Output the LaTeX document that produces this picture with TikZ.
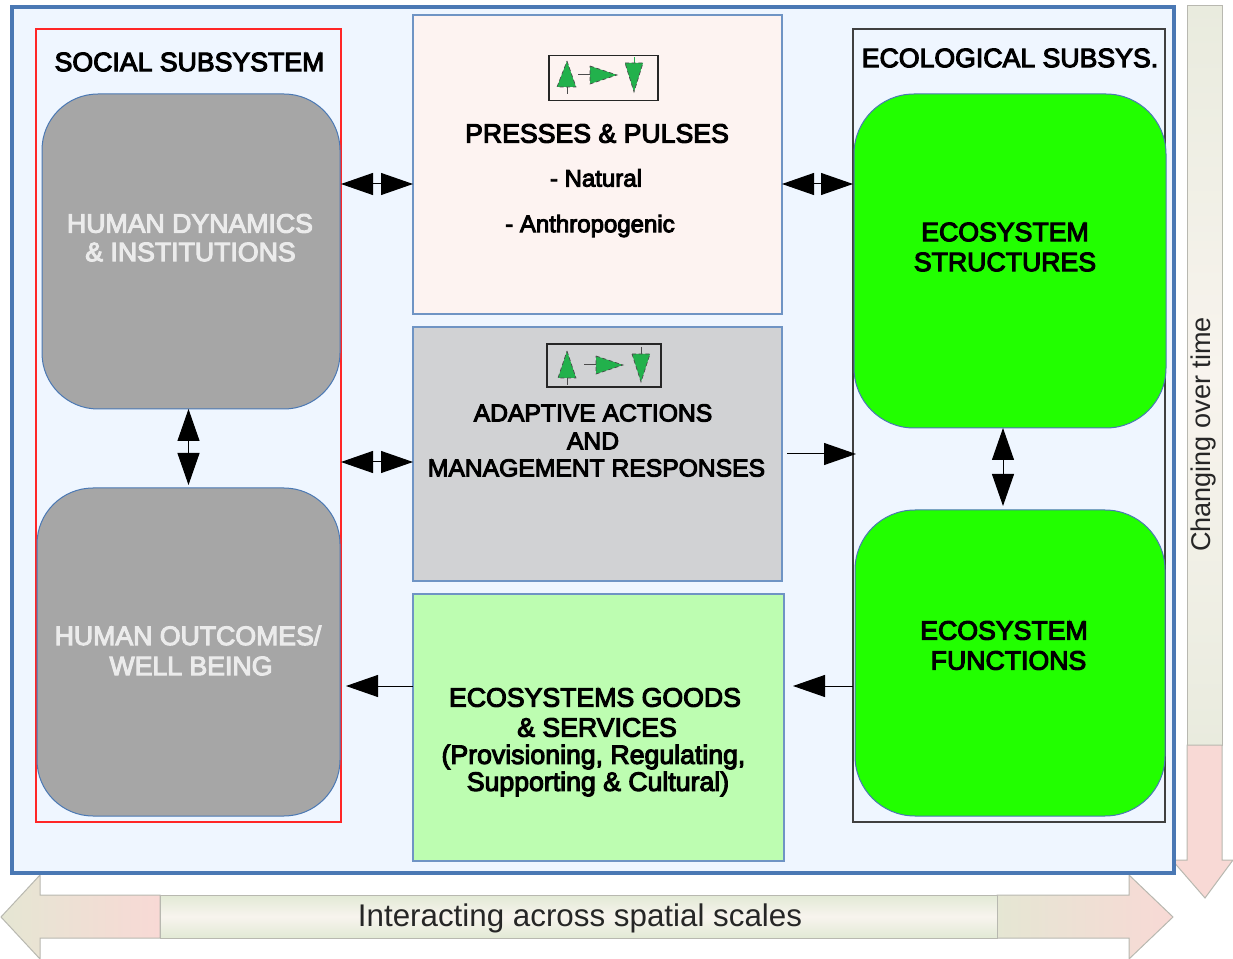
\documentclass[tikz,border=0pt]{standalone}
\usepackage{fontspec}
\usetikzlibrary{arrows.meta}
\setmainfont{Liberation Sans}
\newfontfamily\fb[FakeBold=4]{Liberation Sans}
\definecolor{outerblue}{HTML}{4A78B4}
\definecolor{paleblue}{HTML}{EFF6FF}
\definecolor{edgeblue}{HTML}{6F94C4}
\definecolor{arrowedge}{HTML}{B8B8B0}
\definecolor{sand}{HTML}{E5E6D3}
\definecolor{cream}{HTML}{F8F4EE}
\definecolor{sage}{HTML}{E9EBDE}
\definecolor{blush}{HTML}{F8D9D5}
\definecolor{bandgreen}{HTML}{E2E9D5}
\definecolor{treegreen}{HTML}{22B14C}
\definecolor{vivid}{HTML}{22FF00}
\tikzset{
  sz/.style 2 args={minimum width=#1*0.75pt,minimum height=#2*0.75pt,inner sep=0pt,outer sep=0pt},
  panel/.style={draw=edgeblue,line width=0.8pt},
  rbox/.style={draw=outerblue,line width=0.75pt,rounded corners=42pt},
  big/.style={font=\fb\fontsize{20}{22}\selectfont,inner sep=0pt,align=center},
  mid/.style={font=\fb\fontsize{20}{22}\selectfont,inner sep=0pt},
  adp/.style={font=\fb\fontsize{18.5}{20}\selectfont,inner sep=0pt},
  small/.style={font=\fb\fontsize{18}{20}\selectfont,inner sep=0pt},
  light/.style={text=black!8},
  dbl/.style={line width=0.75pt,{Triangle[length=24pt,width=16.5pt]}-{Triangle[length=24pt,width=16.5pt]}},
  sgl/.style={line width=0.75pt,-{Triangle[length=24pt,width=16.5pt]}},
  arrowband/.style={draw=arrowedge,line width=0.75pt},
  tree/.style={fill=treegreen,draw=black!70,line width=0.5pt,densely dashed},
  stem/.style={draw=black!70,line width=0.75pt},
  iconbox/.style={draw=black!85,line width=1pt,fill=none},
}
\begin{document}
\begin{tikzpicture}[x=0.75pt,y=-0.75pt]
\useasboundingbox (0,0) rectangle (1233,959);
% background arrows
\begin{scope}
\clip (0,0) rectangle (1233,959);
\path[arrowband,top color=sage,bottom color=sage,middle color=cream] (1187,6) rectangle (1222,745);
\path[arrowband,fill=blush] (1187,745) -- (1187,860) -- (1172,860) -- (1205,898) -- (1233,860) -- (1222,860) -- (1222,745) -- cycle;
\path[arrowband,left color=sand,right color=blush] (160,895) -- (40,895) -- (40,875) -- (1,917) -- (40,959) -- (40,938) -- (160,938) -- cycle;
\path[arrowband,left color=sand,right color=blush] (997,895) -- (1129,895) -- (1129,875) -- (1173,917) -- (1129,959) -- (1129,938) -- (997,938) -- cycle;
\path[arrowband,top color=bandgreen,bottom color=bandgreen,middle color=cream] (160,895) rectangle (997,938);
\end{scope}
\node[sz={1162}{866},draw=outerblue,line width=2.4pt,fill=paleblue] (outer) at (593,440) {};
\node[sz={305}{793},draw=red!85!white,line width=1pt] (social) at (188.5,425.5) {};
\node[sz={312}{793},draw=black!75,line width=1pt] (ecol) at (1009,425.5) {};
\node[sz={298}{315},rbox,fill=black!35] (hd) at (191,251.5) {};
\node[sz={303}{328},rbox,fill=black!35] (ho) at (188.5,652) {};
\node[sz={312}{334},rbox,rounded corners=45pt,fill=vivid] (es) at (1010,261) {};
\node[sz={310}{306},rbox,rounded corners=45pt,fill=vivid] (ef) at (1010,663) {};
\node[sz={369}{299},panel,fill={rgb,255:red,253;green,243;blue,241}] (press) at (597.5,164.5) {};
\node[sz={369}{254},panel,fill={rgb,255:red,209;green,210;blue,212}] (adapt) at (597.5,454) {};
\node[sz={371}{267},panel,fill={rgb,255:red,189;green,253;blue,177}] (goods) at (598.5,727.5) {};
% icon 1
\node[sz={109}{45},iconbox] (icona) at (603.5,78) {};
\draw[stem] (567,87) -- (567,94);
\draw[stem] (578,75) -- (590,75);
\draw[treegreen,line width=0.75pt] (634,57) -- (634,63);
\path[tree] (567,61) -- (576,87) -- (557,87) -- cycle;
\path[tree] (590,66) -- (617,75) -- (590,84) -- cycle;
\path[tree] (625,63) -- (643,63) -- (634,92) -- cycle;
% icon 2
\node[sz={114}{43},iconbox] (iconb) at (604,365.5) {};
\draw[stem] (567,378) -- (567,385);
\draw[stem] (584,365) -- (596,365);
\draw[stem] (641,347) -- (641,354);
\path[tree] (567,351) -- (576,378) -- (558,378) -- cycle;
\path[tree] (596,356) -- (623,365) -- (596,374) -- cycle;
\path[tree] (632,354) -- (650,354) -- (641,382) -- cycle;
% text
\node[big] (t1) at (189.5,62) {SOCIAL SUBSYSTEM};
\node[big] (t2) at (1010,58) {ECOLOGICAL SUBSYS.};
\node[big] (t3) at (597,133.5) {PRESSES \& PULSES};
\node[small] (t4) at (596,178) {- Natural};
\node[small] (t5) at (590,226) {- Anthropogenic};
\node[big,light] (t6) at (190,223.5) {HUMAN DYNAMICS};
\node[big,light] (t7) at (190.5,252) {\& INSTITUTIONS};
\node[big,light] (t8) at (188,635.5) {HUMAN OUTCOMES/};
\node[big,light] (t9) at (191,666) {WELL BEING};
\node[big] (t10) at (1005,232) {ECOSYSTEM};
\node[big] (t11) at (1005,262) {STRUCTURES};
\node[big] (t12) at (1004,630.5) {ECOSYSTEM};
\node[big] (t13) at (1008.5,660.5) {FUNCTIONS};
\node[adp] (t14) at (593,413) {ADAPTIVE ACTIONS};
\node[adp] (t15) at (593,441) {AND};
\node[adp] (t16) at (596.5,468) {MANAGEMENT RESPONSES};
\node[big] (t17) at (595,697.5) {ECOSYSTEMS GOODS};
\node[big] (t18) at (597,727.5) {\& SERVICES};
\node[mid] (t19) at (593.5,757) {(Provisioning, Regulating,};
\node[mid] (t20) at (598,784) {Supporting \& Cultural)};
\node[inner sep=0pt,text=black!85,font=\fontsize{23.5}{26}\selectfont] (t21) at (580,918) {Interacting across spatial scales};
\node[inner sep=0pt,text=black!85,rotate=90,font=\fontsize{20.3}{22}\selectfont] (t22) at (1203,434.5) {Changing over time};
% connectors
\coordinate (ya) at (0,184);
\coordinate (yb) at (0,462);
\coordinate (yc) at (0,454);
\coordinate (yd) at (0,686);
\coordinate (xs) at (1003,0);
\draw[dbl] (social.east |- ya) -- (press.west |- ya);
\draw[dbl] (press.east |- ya) -- (ecol.west |- ya);
\draw[dbl] (social.east |- yb) -- (adapt.west |- yb);
\draw[sgl,shorten <=5*0.75pt,shorten >=-3*0.75pt] (adapt.east |- yc) -- (ecol.west |- yc);
\draw[sgl,shorten >=5*0.75pt] (goods.west |- yd) -- (social.east |- yd);
\draw[sgl,shorten >=9*0.75pt] (ecol.west |- yd) -- (goods.east |- yd);
\draw[dbl,shorten >=3*0.75pt] (hd.south -| ho.north) -- (ho.north);
\draw[dbl,shorten >=4*0.75pt] (es.south -| xs) -- (ef.north -| xs);
\end{tikzpicture}
\end{document}
